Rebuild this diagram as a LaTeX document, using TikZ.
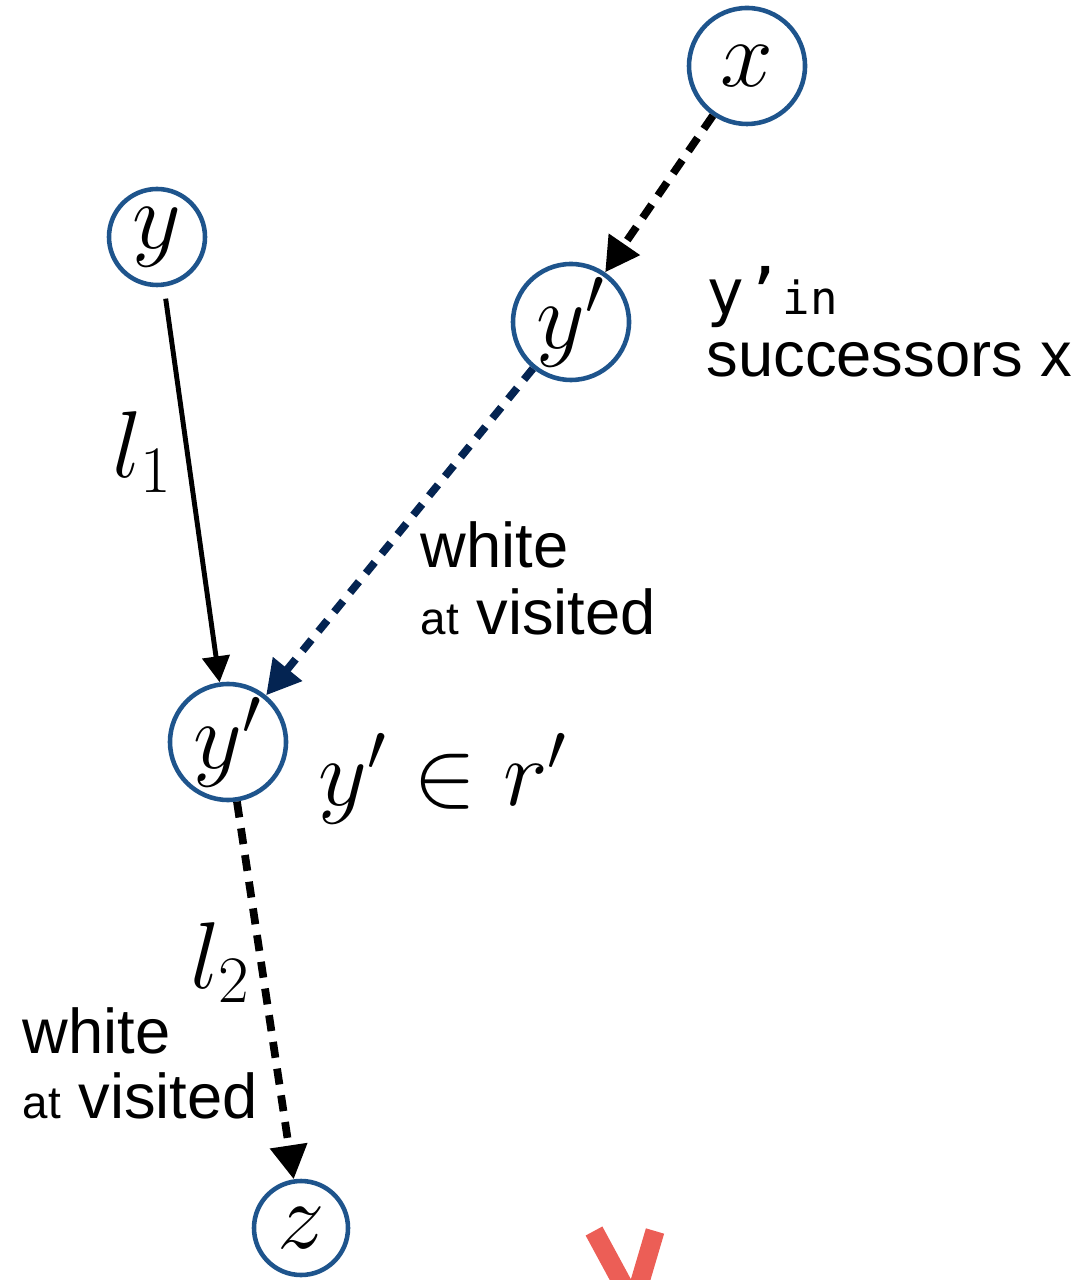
\RequirePackage{fix-cm}
\documentclass[tikz,border=0pt]{standalone}
\usepackage{fontspec}
\newfontfamily\arialf{Liberation Sans}
\newfontfamily\monof{DejaVu Sans Mono}
\usetikzlibrary{arrows.meta}
\definecolor{nodeblue}{RGB}{30,84,140}
\definecolor{navyarr}{RGB}{4,36,82}
\definecolor{markred}{RGB}{236,94,86}

\begin{document}
\begin{tikzpicture}[
vtx/.style = {circle, draw=nodeblue, line width=1.3pt, inner sep=0pt,
              minimum size=#1, font=\fontsize{27}{32}\selectfont},
vtx/.default = 1.16cm,
thk/.style = {line width=2.2pt, dash pattern=on 0.16cm off 0.11cm,
              -{Triangle[length=0.34cm,width=0.36cm]}},
lbl/.style = {inner sep=0pt, anchor=base west,
              font=\arialf\fontsize{18}{21}\selectfont},
mlbl/.style = {inner sep=0pt, anchor=base west,
               font=\fontsize{27}{32}\selectfont}
                    ]
\useasboundingbox (0,0) rectangle (10.89,-12.80);
% vertices
\node[vtx]        (x)  at (7.47,-0.66)  {$x$};
\node[vtx=0.96cm] (y)  at (1.57,-2.37)  {$y$};
\node[vtx]        (yt) at (5.71,-3.22)  {$y'$};
\node[vtx]        (ym) at (2.28,-7.42)  {$y'$};
\node[vtx=0.94cm] (z)  at (3.01,-12.28) {$z$};
% edges
\draw[thk] (x) -- (yt);
\draw[thk, navyarr, dash pattern=on 0.14cm off 0.11cm] (yt) -- (ym);
\draw[line width=1.4pt, shorten <=0.12cm,
      -{Triangle[length=0.26cm,width=0.27cm]}] (y) -- (ym);
\draw[thk] (ym) -- (z);
% labels
\node[mlbl] (l1)  at (1.12,-4.78) {$l_1$};
\node[mlbl] (l2)  at (1.90,-9.88) {$l_2$};
\node[mlbl] (inr) at (3.18,-8.05) {$y'\in r'$};
\node[lbl] (succa) at (7.06,-3.15) {\monof y’\fontsize{13}{15}\selectfont in};
\node[lbl] (succb) at (7.06,-3.77) {successors x};
\node[lbl] (wa) at (4.20,-5.68) {white};
\node[lbl] (va) at (4.20,-6.35) {{\fontsize{13}{15}\selectfont at} visited};
\node[lbl] (wb) at (0.22,-10.53) {white};
\node[lbl] (vb) at (0.22,-11.18) {{\fontsize{13}{15}\selectfont at} visited};
% cut-off red mark
\begin{scope}
\clip (0,0) rectangle (10.89,-12.80);
\draw[markred, line width=0.19cm] (5.94,-12.31) -- (6.27,-12.92);
\draw[markred, line width=0.19cm] (6.55,-12.31) -- (6.37,-12.92);
\end{scope}
\end{tikzpicture}
\end{document}
